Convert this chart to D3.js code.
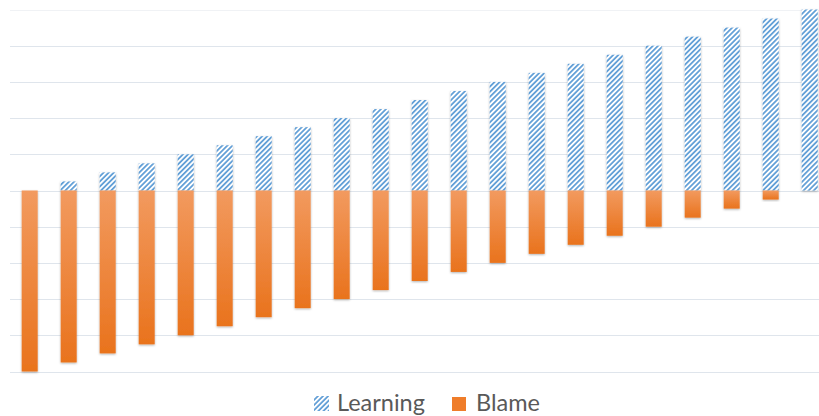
<!DOCTYPE html>
<html>
<head>
<meta charset="utf-8">
<script src="https://cdn.jsdelivr.net/npm/d3@7"></script>
<style>
  body { margin: 0; background: #fff; }
  svg { display: block; }
</style>
</head>
<body>
<div id="chart"></div>
<script>
const categories = ["1","2","3","4","5","6","7","8","9","10","11","12","13","14","15","16","17","18","19","20","21"];
const learning = [0, 0.25, 0.5, 0.75, 1, 1.25, 1.5, 1.75, 2, 2.25, 2.5, 2.75, 3, 3.25, 3.5, 3.75, 4, 4.25, 4.5, 4.75, 5];
const blame = [5, 4.75, 4.5, 4.25, 4, 3.75, 3.5, 3.25, 3, 2.75, 2.5, 2.25, 2, 1.75, 1.5, 1.25, 1, 0.75, 0.5, 0.25, 0];
const yTicks = [-5, -4, -3, -2, -1, 0, 1, 2, 3, 4, 5];
const seriesNames = ["Learning", "Blame"];

const width = 819, height = 416;

const svg = d3.select("#chart")
  .append("svg")
  .attr("width", width)
  .attr("height", height);

const defs = svg.append("defs");

const hatch = defs.append("pattern")
  .attr("id", "hatch")
  .attr("patternUnits", "userSpaceOnUse")
  .attr("width", 3.6)
  .attr("height", 3.6)
  .attr("patternTransform", "rotate(45)");
hatch.append("rect").attr("width", 3.6).attr("height", 3.6).attr("fill", "#fff");
hatch.append("line")
  .attr("x1", 0.9).attr("y1", 0).attr("x2", 0.9).attr("y2", 3.6)
  .attr("stroke", "#5b9bd5").attr("stroke-width", 1.7);

const grad = defs.append("linearGradient")
  .attr("id", "orangeGrad")
  .attr("x1", 0).attr("y1", 0).attr("x2", 0).attr("y2", 1);
grad.append("stop").attr("offset", "0%").attr("stop-color", "#f29a5f");
grad.append("stop").attr("offset", "100%").attr("stop-color", "#e9731d");

const shadow = defs.append("filter").attr("id", "shadow")
  .attr("x", "-30%").attr("y", "-10%").attr("width", "160%").attr("height", "130%");
shadow.append("feDropShadow")
  .attr("dx", 0).attr("dy", 1).attr("stdDeviation", 0.9)
  .attr("flood-color", "#000").attr("flood-opacity", 0.3);

const x = d3.scaleBand()
  .domain(categories)
  .range([10, 829.4])
  .paddingInner(0.59)
  .paddingOuter(0.3);

const y = d3.scaleLinear()
  .domain([-5, 5])
  .range([371.5, 9.5]);

// gridlines
svg.append("g")
  .selectAll("line")
  .data(yTicks)
  .join("line")
  .attr("x1", 10)
  .attr("x2", width)
  .attr("y1", d => Math.round(y(d)) + 0.5)
  .attr("y2", d => Math.round(y(d)) + 0.5)
  .attr("stroke", d => d === 5 ? "#f0f2f5" : "#dfe5ec")
  .attr("stroke-width", 1);

// learning bars (above zero)
svg.append("g")
  .selectAll("rect")
  .data(categories.filter((c, i) => learning[i] > 0))
  .join("rect")
  .attr("x", d => x(d))
  .attr("y", d => y(learning[categories.indexOf(d)]))
  .attr("width", x.bandwidth())
  .attr("height", d => y(0) - y(learning[categories.indexOf(d)]))
  .attr("fill", "url(#hatch)")
  .attr("filter", "url(#shadow)");

// blame bars (below zero)
svg.append("g")
  .selectAll("rect")
  .data(categories.filter((c, i) => blame[i] > 0))
  .join("rect")
  .attr("x", d => x(d))
  .attr("y", y(0))
  .attr("width", x.bandwidth())
  .attr("height", d => y(-blame[categories.indexOf(d)]) - y(0))
  .attr("fill", "url(#orangeGrad)")
  .attr("filter", "url(#shadow)");

// legend
const legend = svg.append("g").attr("font-family", "Lato, 'Open Sans', sans-serif")
  .attr("font-size", 23.5).attr("fill", "#595959");

legend.append("rect")
  .attr("x", 314).attr("y", 396).attr("width", 15).attr("height", 15)
  .attr("fill", "url(#hatch)");
legend.append("text").attr("x", 337).attr("y", 411).text(seriesNames[0]);

legend.append("rect")
  .attr("x", 452).attr("y", 397).attr("width", 14).attr("height", 14)
  .attr("fill", "#ef7d2a");
legend.append("text").attr("x", 476).attr("y", 411).text(seriesNames[1]);
</script>
</body>
</html>
